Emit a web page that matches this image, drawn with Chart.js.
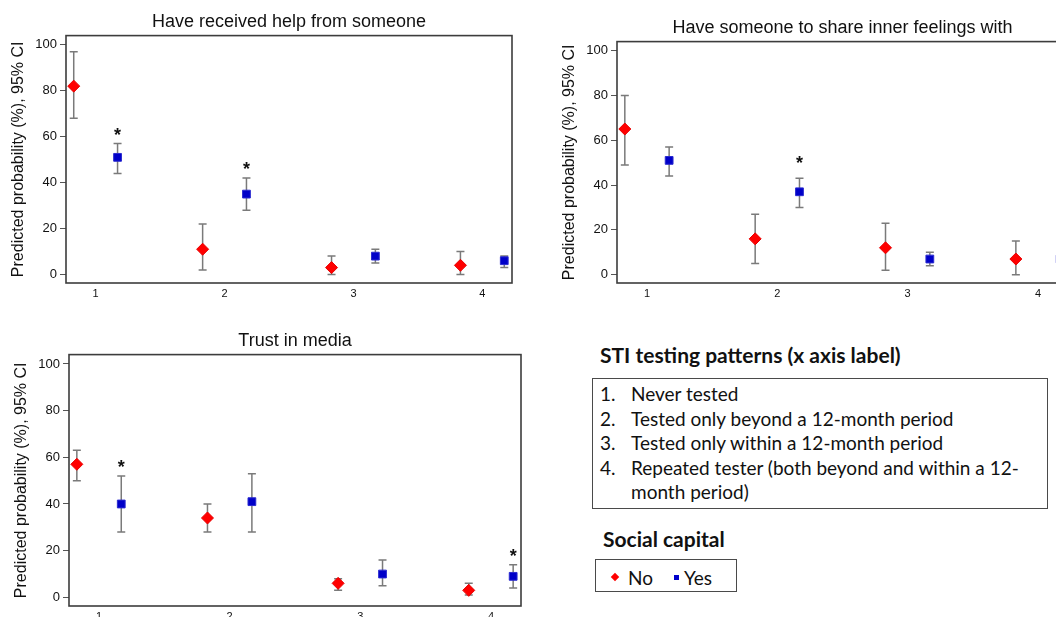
<!DOCTYPE html>
<html>
<head>
<meta charset="utf-8">
<script src="https://cdn.jsdelivr.net/npm/chart.js@4"></script>
<style>
  html, body { margin: 0; padding: 0; background: #fff; width: 1056px; height: 617px; overflow: hidden; }
  body { position: relative; font-family: Lato, "Open Sans", sans-serif; color: #111; }
  canvas { position: absolute; }
  .abs { position: absolute; white-space: nowrap; }
  .head { font-weight: bold; font-size: 21px; line-height: 24px; }
  .box { position: absolute; border: 1.5px solid #4a4a4a; box-sizing: border-box; }
  .item { position: absolute; font-size: 19px; line-height: 24px; white-space: nowrap; }
  .item .n { position: absolute; left: 0; }
  .item .t { position: absolute; left: 31px; }
  .mk { position: absolute; }
</style>
</head>
<body>
<canvas id="help" width="578" height="304" style="left:0px; top:1px"></canvas>
<canvas id="share" width="583" height="298" style="left:551px; top:7px"></canvas>
<canvas id="media" width="584" height="308" style="left:3px; top:320px"></canvas>

<div class="abs head" style="left:600px; top:343px">STI testing patterns (x axis label)</div>
<div class="box" style="left:592px; top:378px; width:456px; height:131px"></div>
<div id="patterns"></div>

<div class="abs head" style="left:603px; top:527px">Social capital</div>
<div class="box" style="left:595px; top:559px; width:142px; height:33px"></div>
<div class="mk" style="left:612px; top:574px; width:6px; height:6px; background:#ff0000; transform:rotate(45deg)"></div>
<div class="item" style="left:628px; top:566px">No</div>
<div class="mk" style="left:674px; top:575px; width:5px; height:5px; background:#0000cc"></div>
<div class="item" style="left:684px; top:566px">Yes</div>

<script>
const categories = [1, 2, 3, 4]
const tickLabels = ["1", "2", "3", "4"]
const yTicks = [0, 20, 40, 60, 80, 100]
const patternLabels = [
  "Never tested",
  "Tested only beyond a 12-month period",
  "Tested only within a 12-month period",
  "Repeated tester (both beyond and within a 12-",
  "month period)",
]

// Have received help from someone
const helpNo = [82, 11, 3, 4]
const helpNoLo = [68, 2, 0, 0]
const helpNoHi = [97, 22, 8, 10]
const helpYes = [51, 35, 8, 6]
const helpYesLo = [44, 28, 5, 3]
const helpYesHi = [57, 42, 11, 8]
const helpStars = [true, true, false, false]

// Have someone to share inner feelings with
const shareNo = [65, 16, 12, 7]
const shareNoLo = [49, 5, 2, 0]
const shareNoHi = [80, 27, 23, 15]
const shareYes = [51, 37, 7, 7]
const shareYesLo = [44, 30, 4, 4]
const shareYesHi = [57, 43, 10, 10]
const shareStars = [false, true, false, false]

// Trust in media
const mediaNo = [57, 34, 6, 3]
const mediaNoLo = [50, 28, 3, 1]
const mediaNoHi = [63, 40, 8, 6]
const mediaYes = [40, 41, 10, 9]
const mediaYesLo = [28, 28, 5, 4]
const mediaYesHi = [52, 53, 16, 14]
const mediaStars = [true, false, false, true]

const dodge = 0.17
const axisFont = "Liberation Sans"

// text list in the key box
const patterns = document.getElementById("patterns")
patternLabels.forEach((txt, i) => {
  const row = document.createElement("div")
  row.className = "item"
  row.style.left = "600px"
  row.style.top = 382 + i * 24.5 + "px"
  row.innerHTML = (i < 4 ? '<span class="n">' + (i + 1) + ".</span>" : "") + '<span class="t">' + txt + "</span>"
  patterns.appendChild(row)
})

// frame, 95% CI whiskers and significance stars
const errorBars = {
  id: "errorBars",
  beforeDatasetsDraw(chart, args, opts) {
    const ctx = chart.ctx
    const y = chart.scales.y
    const a = chart.chartArea
    ctx.save()
    ctx.strokeStyle = "#3c3c3c"
    ctx.lineWidth = 1.6
    ctx.strokeRect(a.left, a.top, a.right - a.left, a.bottom - a.top)
    ctx.strokeStyle = "#7a7a7a"
    ctx.lineWidth = 1.5
    chart.data.datasets.forEach((ds, i) => {
      chart.getDatasetMeta(i).data.forEach((pt, j) => {
        const top = y.getPixelForValue(ds.hi[j])
        const bot = y.getPixelForValue(ds.lo[j])
        ctx.beginPath()
        ctx.moveTo(pt.x, top)
        ctx.lineTo(pt.x, bot)
        ctx.moveTo(pt.x - 4, top)
        ctx.lineTo(pt.x + 4, top)
        ctx.moveTo(pt.x - 4, bot)
        ctx.lineTo(pt.x + 4, bot)
        ctx.stroke()
        if (ds.stars && ds.stars[j]) {
          ctx.fillStyle = "#111"
          ctx.font = "bold 18px " + axisFont
          ctx.textAlign = "center"
          ctx.textBaseline = "middle"
          ctx.fillText("*", pt.x, top - opts.starGap)
        }
      })
    })
    ctx.restore()
  },
}

function makeChart(id, title, no, noLo, noHi, yes, yesLo, yesHi, stars, starGap) {
  new Chart(document.getElementById(id), {
    type: "scatter",
    data: {
      datasets: [
        {
          label: "No",
          data: categories.map((c, i) => ({ x: c - dodge, y: no[i] })),
          lo: noLo,
          hi: noHi,
          pointStyle: "rectRot",
          pointRadius: 6,
          backgroundColor: "#ff0000",
          borderColor: "#e80000",
          borderWidth: 1,
        },
        {
          label: "Yes",
          data: categories.map((c, i) => ({ x: c + dodge, y: yes[i] })),
          lo: yesLo,
          hi: yesHi,
          stars: stars,
          pointStyle: "rect",
          pointRadius: 5.5,
          backgroundColor: "#0000c8",
          borderColor: "#2a2ad0",
          borderWidth: 1,
        },
      ],
    },
    options: {
      responsive: false,
      animation: false,
      layout: { padding: { left: 0, right: 66, top: 0, bottom: 0 } },
      plugins: {
        legend: { display: false },
        tooltip: { enabled: false },
        title: {
          display: true,
          fullSize: false,
          text: title,
          color: "#111",
          font: { family: axisFont, size: 18, weight: "normal" },
          padding: { top: 10, bottom: 3 },
        },
        errorBars: { starGap: starGap },
      },
      scales: {
        x: {
          type: "linear",
          min: 0.77,
          max: 4.23,
          afterBuildTicks: (s) => {
            s.ticks = categories.map((v) => ({ value: v }))
          },
          afterFit: (s) => {
            s.height = 22
          },
          ticks: {
            callback: (v, i) => tickLabels[i],
            color: "#111",
            font: { family: axisFont, size: 11 },
            padding: 4,
            maxRotation: 0,
          },
          grid: { display: false, drawTicks: false },
          border: { display: false },
        },
        y: {
          min: -3.7,
          max: 104,
          afterBuildTicks: (s) => {
            s.ticks = yTicks.map((v) => ({ value: v }))
          },
          afterFit: (s) => {
            s.width = 66
          },
          ticks: {
            color: "#111",
            font: { family: axisFont, size: 13 },
            padding: 3,
          },
          grid: { drawOnChartArea: false, tickLength: 6, color: "#555", lineWidth: 1 },
          border: { display: false },
          title: {
            display: true,
            text: "Predicted probability (%), 95% CI",
            color: "#111",
            font: { family: axisFont, size: 16 },
            padding: { top: 9, bottom: 0 },
          },
        },
      },
    },
    plugins: [errorBars],
  })
}

makeChart("help", "Have received help from someone",
  helpNo, helpNoLo, helpNoHi, helpYes, helpYesLo, helpYesHi, helpStars, 7.5)
makeChart("share", "Have someone to share inner feelings with",
  shareNo, shareNoLo, shareNoHi, shareYes, shareYesLo, shareYesHi, shareStars, 14)
makeChart("media", "Trust in media",
  mediaNo, mediaNoLo, mediaNoHi, mediaYes, mediaYesLo, mediaYesHi, mediaStars, 8)
</script>
</body>
</html>
